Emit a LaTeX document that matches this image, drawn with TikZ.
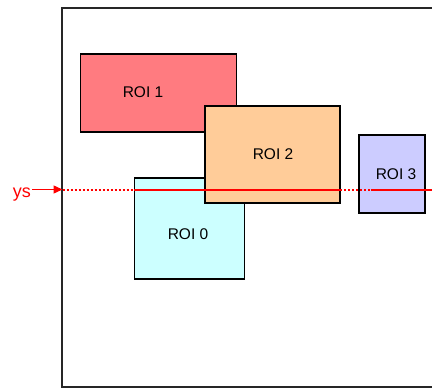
\documentclass[tikz,border=0pt]{standalone}
\usepackage{fontspec}
\setmainfont{Liberation Sans}
\usetikzlibrary{arrows.meta}
\definecolor{roiA}{HTML}{FF7B80}
\definecolor{roiB}{HTML}{FFCC99}
\definecolor{roiC}{HTML}{CCFFFF}
\definecolor{roiD}{HTML}{CCCCFF}
\definecolor{scanred}{HTML}{FF0000}
\tikzset{
  roi/.style={draw=black, line width=1.8pt, rectangle, inner sep=0pt, anchor=north west},
  roitext/.style={font=\fontsize{15.5}{18}\selectfont, inner sep=0pt},
  scan/.style={color=scanred, line width=2pt},
  scandot/.style={color=scanred, line width=2pt, dash pattern=on 2pt off 2pt},
}
\begin{document}
\begin{tikzpicture}[x=1pt, y=-1pt]
\useasboundingbox (0,0) rectangle (432,389);
\clip (0,0) rectangle (432,389);
% frame
\draw[line width=1.8pt, draw=black!85] (62,8) rectangle (460,387);
% ROIs
\node[roi, fill=roiA, minimum width=156pt, minimum height=78pt] (r1) at (79.5,53) {};
\node[roitext] (t1) at (143,92) {ROI 1};
\node[roi, fill=roiC, minimum width=110pt, minimum height=101pt] (r0) at (133.5,177) {};
\node[roitext] (t0) at (188,234) {ROI 0};
\node[roi, fill=roiB, minimum width=135pt, minimum height=97pt] (r2) at (204,105) {};
\node[roitext] (t2) at (273,154) {ROI 2};
\node[roi, fill=roiD, minimum width=66pt, minimum height=78pt] (r3) at (358,134) {};
\node[roitext] (t3) at (396,174) {ROI 3};
% scan line
\coordinate (f) at (62.5,189.5);
\coordinate (a) at (134,189.5);
\coordinate (b) at (340,189.5);
\coordinate (c) at (370.5,189.5);
\coordinate (d) at (440,189.5);
\draw[scandot] (f) -- (a);
\draw[scan] (a) -- (b);
\draw[scandot] (b) -- (c);
\draw[scan] (c) -- (d);
% ys label and arrow
\node[font=\fontsize{18}{20}\selectfont, text=scanred, inner sep=0pt, anchor=base east] (ys) at (31,197.5) {ys};
\coordinate (ysa) at (32,189.5);
\draw[scan, line width=1.4pt, -{Triangle[length=9pt,width=8pt]}] (ysa) -- (f);
\end{tikzpicture}
\end{document}
